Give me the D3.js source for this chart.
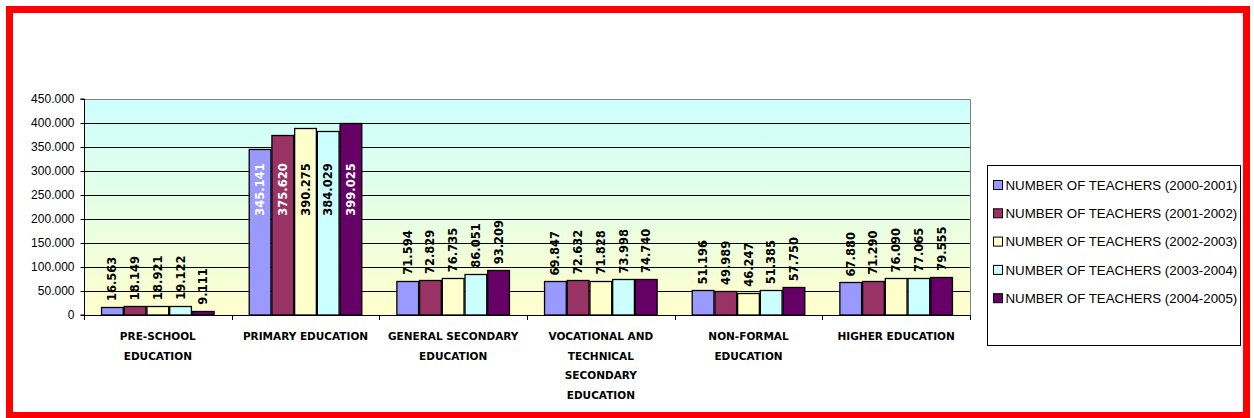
<!DOCTYPE html>
<html>
<head>
<meta charset="utf-8">
<script src="https://cdn.jsdelivr.net/npm/d3@7"></script>
<style>
  html, body { margin: 0; padding: 0; background: #fff; }
  svg { display: block; }
</style>
</head>
<body>
<div id="chart"></div>
<script>
// Teachers per education level, five school years
const categories = [
  ["PRE-SCHOOL", "EDUCATION"],
  ["PRIMARY EDUCATION"],
  ["GENERAL SECONDARY", "EDUCATION"],
  ["VOCATIONAL AND", "TECHNICAL", "SECONDARY", "EDUCATION"],
  ["NON-FORMAL", "EDUCATION"],
  ["HIGHER EDUCATION"]
];
const seriesNames = [
  "NUMBER OF TEACHERS (2000-2001)",
  "NUMBER OF TEACHERS (2001-2002)",
  "NUMBER OF TEACHERS (2002-2003)",
  "NUMBER OF TEACHERS (2003-2004)",
  "NUMBER OF TEACHERS (2004-2005)"
];
const teachers2000 = [16563, 345141, 71594, 69847, 51196, 67880];
const teachers2001 = [18149, 375620, 72829, 72632, 49989, 71290];
const teachers2002 = [18921, 390275, 76735, 71828, 46247, 76090];
const teachers2003 = [19122, 384029, 86051, 73998, 51385, 77065];
const teachers2004 = [9111, 399025, 93209, 74740, 57750, 79555];
const yTicks = [0, 50000, 100000, 150000, 200000, 250000, 300000, 350000, 400000, 450000];

const seriesValues = [teachers2000, teachers2001, teachers2002, teachers2003, teachers2004];
const colors = ["#9999FF", "#993366", "#FFFFCC", "#CCFFFF", "#660066"];
const insideLabelColors = ["#FFFFFF", "#FFFFFF", "#000000", "#000000", "#FFFFFF"];

const W = 1254, H = 418;
const plot = { left: 84, top: 99, right: 970, bottom: 315 };

const locale = d3.formatLocale({ decimal: ",", thousands: ".", grouping: [3], currency: ["", ""] });
const fmt = locale.format(",d");

const svg = d3.select("#chart").append("svg")
  .attr("width", W).attr("height", H);

// Outer red frame
svg.append("rect")
  .attr("x", 9.5).attr("y", 9.5)
  .attr("width", 1237).attr("height", 406)
  .attr("fill", "#fff")
  .attr("stroke", "#FF0000").attr("stroke-width", 7);

const defs = svg.append("defs");
const grad = defs.append("linearGradient")
  .attr("id", "plotFill").attr("x1", 0).attr("y1", 0).attr("x2", 0).attr("y2", 1);
grad.append("stop").attr("offset", "0%").attr("stop-color", "#CCFFFF");
grad.append("stop").attr("offset", "100%").attr("stop-color", "#FFFFCC");

const x0 = d3.scaleBand()
  .domain(d3.range(categories.length))
  .range([plot.left, plot.right])
  .paddingInner(0).paddingOuter(0);

const gapRatio = 1.5; // gap between clusters, in bar widths
const barW = x0.bandwidth() / (seriesNames.length + gapRatio);
const x1 = d3.scaleBand()
  .domain(d3.range(seriesNames.length))
  .range([barW * gapRatio / 2, x0.bandwidth() - barW * gapRatio / 2])
  .padding(0);

const y = d3.scaleLinear().domain([0, 450000]).range([plot.bottom, plot.top]);

// Plot area background
svg.append("rect")
  .attr("x", plot.left).attr("y", plot.top)
  .attr("width", plot.right - plot.left).attr("height", plot.bottom - plot.top)
  .attr("fill", "url(#plotFill)");

// Gridlines
svg.append("g")
  .selectAll("line")
  .data(yTicks.filter(d => d > 0 && d < 450000))
  .join("line")
  .attr("x1", plot.left).attr("x2", plot.right)
  .attr("y1", d => Math.round(y(d)) + 0.5).attr("y2", d => Math.round(y(d)) + 0.5)
  .attr("stroke", "#000").attr("stroke-width", 1);

// Plot border (top and right)
svg.append("path")
  .attr("d", `M${plot.left},${plot.top + 0.5}H${plot.right + 0.5}V${plot.bottom}`)
  .attr("fill", "none").attr("stroke", "#808080").attr("stroke-width", 1);

// Bars
const groups = svg.append("g")
  .selectAll("g")
  .data(categories.map((c, i) => i))
  .join("g")
  .attr("transform", i => `translate(${x0(i)},0)`);

groups.selectAll("rect")
  .data(i => seriesValues.map((vals, s) => ({ s, v: vals[i] })))
  .join("rect")
  .attr("x", d => x1(d.s) + 0.5)
  .attr("y", d => Math.round(y(d.v)) + 0.5)
  .attr("width", x1.bandwidth() - 1)
  .attr("height", d => plot.bottom - Math.round(y(d.v)) - 0.5)
  .attr("fill", d => colors[d.s])
  .attr("stroke", "#000").attr("stroke-width", 1.3);

// Value labels, rotated
const labelFont = 11.5;
const insideTop = y(316000);
groups.selectAll("text")
  .data(i => seriesValues.map((vals, s) => ({ s, v: vals[i] })))
  .join("text")
  .each(function (d) {
    const t = d3.select(this);
    const cx = x1(d.s) + x1.bandwidth() / 2;
    const outside = y(d.v) - 6 - 52 > plot.top;
    if (outside) {
      t.attr("transform", `translate(${cx},${y(d.v) - 6}) rotate(-90)`)
        .attr("text-anchor", "start")
        .attr("fill", "#000");
    } else {
      t.attr("transform", `translate(${cx},${insideTop}) rotate(-90)`)
        .attr("text-anchor", "end")
        .attr("fill", insideLabelColors[d.s]);
    }
  })
  .attr("dy", "0.35em")
  .attr("font-family", "DejaVu Sans, sans-serif")
  .attr("font-weight", "bold")
  .attr("font-size", labelFont)
  .text(d => fmt(d.v));

// Y axis
const yAxis = d3.axisLeft(y).tickValues(yTicks).tickSize(4).tickPadding(6)
  .tickFormat(d => d === 0 ? "0" : fmt(d));
const gy = svg.append("g").attr("transform", `translate(${plot.left + 0.5},0)`).call(yAxis);
gy.select(".domain").attr("stroke", "#000").attr("d", `M-4,${plot.top}H0V${plot.bottom}H-4`);
gy.selectAll(".tick line").attr("stroke", "#000");
gy.selectAll("text")
  .attr("font-family", "Liberation Sans, Arial, sans-serif")
  .attr("font-size", 12).attr("fill", "#000");

// X axis line and boundary ticks
const xg = svg.append("g");
xg.append("line")
  .attr("x1", plot.left).attr("x2", plot.right + 0.5)
  .attr("y1", plot.bottom + 0.5).attr("y2", plot.bottom + 0.5)
  .attr("stroke", "#000");
xg.selectAll("line.tick")
  .data(d3.range(categories.length + 1))
  .join("line").attr("class", "tick")
  .attr("x1", i => Math.round(plot.left + i * x0.bandwidth()) + 0.5)
  .attr("x2", i => Math.round(plot.left + i * x0.bandwidth()) + 0.5)
  .attr("y1", plot.bottom).attr("y2", plot.bottom + 5)
  .attr("stroke", "#000");

// Category labels
const catText = xg.selectAll("text.cat")
  .data(categories.map((c, i) => ({ lines: c, i })))
  .join("text").attr("class", "cat")
  .attr("x", d => x0(d.i) + x0.bandwidth() / 2)
  .attr("y", 340)
  .attr("text-anchor", "middle")
  .attr("font-family", "DejaVu Sans, sans-serif")
  .attr("font-weight", "bold")
  .attr("font-size", 10.5)
  .attr("fill", "#000");
catText.selectAll("tspan")
  .data(d => d.lines.map(l => ({ l, x: x0(d.i) + x0.bandwidth() / 2 })))
  .join("tspan")
  .attr("x", d => d.x)
  .attr("dy", (d, k) => k === 0 ? 0 : 19.5)
  .text(d => d.l);

// Legend
const legend = svg.append("g");
legend.append("rect")
  .attr("x", 987.5).attr("y", 165.5)
  .attr("width", 253).attr("height", 180)
  .attr("fill", "#fff").attr("stroke", "#000").attr("stroke-width", 1);
const items = legend.selectAll("g.item")
  .data(seriesNames.map((n, s) => ({ n, s })))
  .join("g").attr("class", "item")
  .attr("transform", d => `translate(0,${185 + d.s * 28.3})`);
items.append("rect")
  .attr("x", 993.5).attr("y", -4.5)
  .attr("width", 9).attr("height", 9)
  .attr("fill", d => colors[d.s])
  .attr("stroke", "#000").attr("stroke-width", 1);
items.append("text")
  .attr("x", 1005.5).attr("y", 0).attr("dy", "0.35em")
  .attr("font-family", "Liberation Sans, Arial, sans-serif")
  .attr("font-size", 13.3)
  .attr("fill", "#000")
  .text(d => d.n);
</script>
</body>
</html>
